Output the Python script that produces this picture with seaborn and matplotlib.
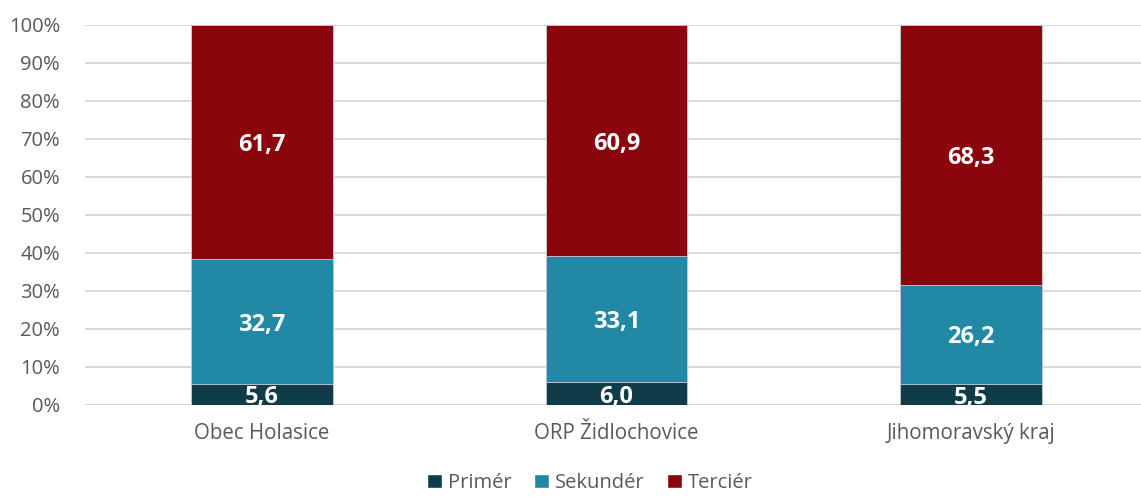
import pandas as pd
import matplotlib.pyplot as plt
import seaborn as sns
from matplotlib.patches import Patch

# data
categories = ['Obec Holasice', 'ORP Židlochovice', 'Jihomoravský kraj']
primer = [5.6, 6.0, 5.5]
sekunder = [32.7, 33.1, 26.2]
tercier = [61.7, 60.9, 68.3]
series_names = ['Primér', 'Sekundér', 'Terciér']
colors = ['#0F3C48', '#2189A5', '#8B060C']

df = pd.DataFrame({'kat': categories, 'Primér': primer, 'Sekundér': sekunder, 'Terciér': tercier})
df['c1'] = df['Primér']
df['c2'] = df['c1'] + df['Sekundér']
df['c3'] = df['c2'] + df['Terciér']

sns.set_theme(style='white')
plt.rcParams['font.family'] = ['Open Sans', 'DejaVu Sans']

fig = plt.figure(figsize=(11.41, 4.97), dpi=100)
ax = fig.add_axes([85 / 1141, 92 / 497, 1 - 85 / 1141, 380 / 497])

# stacked bars drawn back to front from cumulative sums
for col, c in zip(['c3', 'c2', 'c1'], colors[::-1]):
    sns.barplot(data=df, x='kat', y=col, color=c, width=0.4, ax=ax,
                saturation=1, edgecolor='#c8d0d4', linewidth=0.6)

# labels in the middle of each segment
for i in range(len(categories)):
    bottoms = [0, df['c1'][i], df['c2'][i]]
    vals = [primer[i], sekunder[i], tercier[i]]
    for b, v in zip(bottoms, vals):
        ax.text(i, b + v / 2, f'{v:.1f}'.replace('.', ','), ha='center', va='center_baseline',
                color='white', fontsize=17, fontweight='bold', clip_on=True)

ax.set_ylim(0, 100)
ax.set_xlim(-0.5, 2.48)
ax.set_yticks(range(0, 101, 10))
ax.set_yticklabels([f'{t}%' for t in range(0, 101, 10)])
ax.yaxis.grid(True, color='#D9D9D9', linewidth=1.4)
ax.set_axisbelow(True)
sns.despine(ax=ax, left=True, bottom=True)
ax.set_xlabel('')
ax.set_ylabel('')
ax.tick_params(axis='y', length=0, pad=18, labelsize=14.5, labelcolor='#595959')
ax.tick_params(axis='x', length=0, pad=13, labelsize=14.8, labelcolor='#595959')

handles = [Patch(facecolor=c, label=n) for c, n in zip(colors, series_names)]
fig.legend(handles=handles, loc='center', bbox_to_anchor=(590 / 1141, 14 / 497), ncol=3,
           frameon=False, fontsize=14.5, handlelength=0.75, handleheight=0.75,
           handletextpad=0.3, columnspacing=1.1, labelcolor='#595959')

fig.savefig('out.png', dpi=100)
